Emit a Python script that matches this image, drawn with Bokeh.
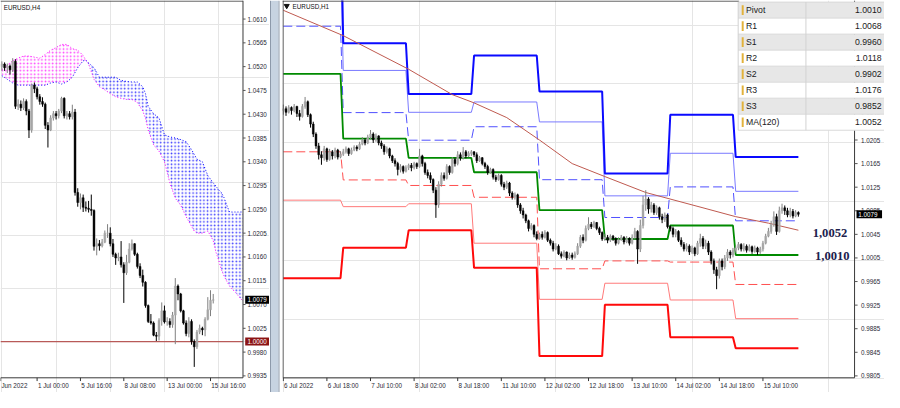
from bokeh.plotting import figure
from bokeh.layouts import row
from bokeh.models import Range1d
from bokeh.core.properties import value
from bokeh.embed import file_html
from bokeh.resources import INLINE

PIP = 1e-4

# ---------------- LEFT PANEL: EURUSD H4 (prices x 1e4) ----------------
h4_first_open = 10520
h4_close = [10525, 10518, 10521, 10514, 10530, 10445, 10449, 10442, 10454, 10436,
            10400, 10485, 10478, 10463, 10454, 10449, 10409, 10400, 10423, 10431,
            10427, 10436, 10460, 10427, 10431, 10425, 10434, 10282, 10263, 10272,
            10254, 10252, 10250, 10248, 10180, 10185, 10181, 10188, 10205, 10205,
            10185, 10165, 10158, 10160, 10145, 10130, 10150, 10175, 10185, 10165,
            10142, 10125, 10112, 10068, 10038, 10035, 10012, 10010, 10040, 10058,
            10037, 10038, 10032, 10050, 10105, 10090, 10058, 10035, 10015, 10038,
            10000, 9990, 10018, 10025, 10022, 10042, 10060, 10078, 10079]
h4_high = [10530, 10528, 10526, 10524, 10536, 10534, 10458, 10456, 10460, 10458,
           10440, 10488, 10490, 10482, 10468, 10462, 10452, 10415, 10428, 10436,
           10436, 10440, 10463, 10462, 10436, 10436, 10448, 10440, 10290, 10280,
           10278, 10265, 10266, 10278, 10250, 10195, 10192, 10194, 10210, 10222,
           10216, 10194, 10168, 10168, 10190, 10150, 10164, 10186, 10193, 10186,
           10168, 10148, 10136, 10114, 10070, 10052, 10038, 10018, 10044, 10074,
           10068, 10046, 10044, 10056, 10120, 10108, 10092, 10060, 10040, 10046,
           10042, 10004, 10022, 10032, 10028, 10046, 10084, 10097, 10090]
h4_low = [10512, 10512, 10508, 10505, 10510, 10440, 10438, 10436, 10438, 10428,
          10385, 10395, 10470, 10458, 10448, 10444, 10402, 10367, 10398, 10418,
          10420, 10422, 10432, 10422, 10420, 10420, 10420, 10276, 10255, 10250,
          10245, 10246, 10244, 10238, 10172, 10163, 10172, 10178, 10186, 10196,
          10180, 10160, 10145, 10152, 10140, 10073, 10126, 10148, 10172, 10162,
          10138, 10120, 10104, 10064, 10035, 10032, 10010, 10001, 10002, 10030,
          10034, 10030, 10026, 10026, 9995, 10078, 10055, 10032, 10010, 10008,
          9994, 9952, 9986, 10014, 10012, 10010, 10040, 10048, 10072]

# Ichimoku cloud (Senkou Span A / B) at H4 bar positions
cloud_bar = [0, 2, 4, 6, 8, 10, 12, 14, 16, 18, 20, 22, 24, 26, 28, 30, 31, 32,
             34, 36, 38, 40, 42, 44, 46, 48, 50, 52, 53, 54, 56, 58, 60, 62, 64,
             66, 68, 70, 71, 72, 74, 76, 78, 79, 80, 81, 82, 83, 84, 86, 88, 89]
span_a = [10514, 10523, 10531, 10536, 10540, 10540, 10538, 10536, 10543, 10551,
          10556, 10562, 10562, 10554, 10551, 10541, 10532, 10525, 10496, 10482,
          10476, 10469, 10463, 10460, 10458, 10458, 10452, 10436, 10422, 10400,
          10372, 10360, 10340, 10300, 10271, 10258, 10236, 10218, 10209, 10205,
          10205, 10209, 10191, 10169, 10154, 10136, 10124, 10114, 10105, 10094,
          10082, 10076]
span_b = [10503, 10496, 10489, 10485, 10485, 10485, 10485, 10485, 10485, 10489,
          10491, 10487, 10491, 10500, 10518, 10531, 10532, 10527, 10518, 10500,
          10500, 10500, 10500, 10494, 10492, 10491, 10491, 10482, 10469, 10445,
          10431, 10423, 10391, 10387, 10385, 10382, 10378, 10363, 10354, 10345,
          10340, 10314, 10300, 10294, 10287, 10282, 10272, 10258, 10245, 10245,
          10245, 10245]
cloud_cross = 16  # index where span A and B meet

left_ticks = [1.0610, 1.0565, 1.0520, 1.0475, 1.0430, 1.0385, 1.0340, 1.0295,
              1.0250, 1.0205, 1.0160, 1.0115, 1.0070, 1.0025, 0.9980, 0.9935]
left_xtick_bars = [-0.45, 13, 29, 45, 61, 77]
left_xtick_labels = ["Jun 2022", "1 Jul 00:00", "5 Jul 16:00", "8 Jul 08:00",
                     "13 Jul 00:00", "15 Jul 16:00"]
left_level = 1.0000
left_last = 1.0079

# ---------------- RIGHT PANEL: EURUSD H1 (prices x 1e4) ----------------
h1_first_open = 10255
h1_close = ([10258, 10252, 10260, 10255, 10262, 10250, 10245, 10262, 10270, 10248, 10232,
             10215, 10195, 10180, 10175, 10190, 10172, 10185, 10178, 10188, 10176, 10181] +
            [10185, 10190, 10182, 10188, 10193, 10190, 10198, 10205, 10200, 10210, 10215, 10205,
             10212, 10200, 10195, 10185, 10190, 10178, 10170, 10165, 10155, 10160, 10152, 10158] +
            [10162, 10158, 10165, 10160, 10178, 10165, 10150, 10145, 10138, 10120, 10095, 10130,
             10145, 10140, 10160, 10150, 10172, 10165, 10180, 10175, 10185, 10178, 10182, 10185] +
            [10180, 10170, 10175, 10165, 10160, 10150, 10155, 10142, 10138, 10145, 10130, 10125,
             10132, 10115, 10108, 10112, 10095, 10085, 10078, 10068, 10055, 10060, 10045, 10038] +
            [10045, 10040, 10048, 10035, 10030, 10020, 10025, 10012, 10008, 10015, 10005, 10010,
             10006, 10012, 10025, 10040, 10035, 10055, 10062, 10058, 10065, 10055, 10048, 10037] +
            [10040, 10035, 10042, 10038, 10030, 10036, 10040, 10032, 10038, 10030, 10040, 10050,
             10020, 10060, 10095, 10105, 10088, 10095, 10082, 10090, 10075, 10070, 10078, 10058] +
            [10055, 10045, 10050, 10035, 10028, 10020, 10025, 10015, 10022, 10012, 10030, 10038,
             10025, 10030, 10015, 10000, 9985, 9975, 10000, 9990, 10005, 10015, 10010, 10018] +
            [10022, 10028, 10020, 10025, 10018, 10024, 10016, 10022, 10015, 10020, 10030, 10042,
             10050, 10062, 10075, 10050, 10085, 10090, 10085, 10078, 10084, 10076, 10082, 10079])
h1_high = ([10265, 10262, 10264, 10262, 10266, 10263, 10256, 10266, 10278, 10272, 10250,
            10236, 10218, 10200, 10186, 10195, 10192, 10190, 10188, 10192, 10190, 10186] +
           [10190, 10194, 10192, 10192, 10196, 10196, 10202, 10210, 10208, 10214, 10222, 10218,
            10216, 10213, 10204, 10198, 10194, 10192, 10180, 10174, 10168, 10164, 10162, 10162] +
           [10165, 10166, 10168, 10167, 10190, 10180, 10168, 10155, 10150, 10140, 10125, 10135,
            10150, 10150, 10164, 10162, 10176, 10175, 10186, 10184, 10193, 10188, 10186, 10188] +
           [10186, 10184, 10178, 10176, 10168, 10163, 10158, 10157, 10146, 10148, 10147, 10134,
            10136, 10134, 10118, 10116, 10114, 10098, 10090, 10080, 10070, 10064, 10062, 10050] +
           [10048, 10050, 10052, 10050, 10038, 10034, 10030, 10028, 10016, 10018, 10016, 10014,
            10014, 10016, 10030, 10044, 10045, 10060, 10074, 10066, 10068, 10066, 10058, 10050] +
           [10046, 10044, 10045, 10044, 10040, 10040, 10044, 10042, 10042, 10040, 10045, 10056,
            10052, 10070, 10110, 10120, 10108, 10100, 10098, 10094, 10092, 10080, 10082, 10080] +
           [10060, 10058, 10054, 10052, 10040, 10032, 10030, 10028, 10026, 10024, 10034, 10046,
            10042, 10036, 10034, 10018, 10004, 9990, 10004, 10004, 10010, 10020, 10018, 10022] +
           [10026, 10032, 10030, 10030, 10028, 10028, 10026, 10026, 10024, 10024, 10034, 10046,
            10056, 10068, 10084, 10080, 10092, 10097, 10094, 10090, 10090, 10088, 10086, 10084])
h1_low = ([10248, 10246, 10250, 10248, 10252, 10244, 10238, 10243, 10258, 10244, 10226,
           10210, 10190, 10172, 10163, 10170, 10168, 10170, 10172, 10174, 10172, 10174] +
          [10178, 10182, 10178, 10180, 10186, 10186, 10188, 10196, 10196, 10198, 10206, 10200,
           10202, 10196, 10190, 10180, 10182, 10174, 10166, 10160, 10145, 10150, 10148, 10150] +
          [10154, 10152, 10155, 10156, 10158, 10160, 10146, 10140, 10132, 10115, 10073, 10090,
           10126, 10136, 10138, 10146, 10148, 10160, 10162, 10170, 10172, 10174, 10176, 10178] +
          [10176, 10166, 10168, 10162, 10156, 10146, 10148, 10138, 10134, 10136, 10126, 10120,
           10122, 10110, 10104, 10104, 10090, 10080, 10072, 10064, 10050, 10052, 10040, 10035] +
          [10036, 10036, 10038, 10032, 10026, 10016, 10018, 10010, 10004, 10006, 10001, 10003,
           10002, 10004, 10010, 10022, 10030, 10033, 10052, 10054, 10056, 10052, 10044, 10034] +
          [10034, 10030, 10032, 10034, 10026, 10028, 10034, 10028, 10030, 10026, 10028, 10036,
           9995, 10015, 10055, 10085, 10080, 10082, 10078, 10078, 10070, 10064, 10066, 10055] +
          [10050, 10040, 10040, 10032, 10024, 10016, 10016, 10010, 10012, 10008, 10010, 10024,
           10020, 10020, 10010, 9994, 9978, 9952, 9970, 9984, 9986, 10000, 10004, 10006] +
          [10014, 10018, 10016, 10016, 10014, 10016, 10012, 10014, 10010, 10012, 10016, 10028,
           10040, 10046, 10058, 10044, 10048, 10080, 10078, 10074, 10074, 10072, 10074, 10075])

# daily pivot levels (one value per day: 6,7,8,11,12,13,14,15 Jul)
day_start = [0, 22, 46, 70, 94, 118, 142, 166]
last_bar = 189
pivot = [1.0317, 1.02074, 1.01748, 1.01503, 1.00861, 1.00371, 1.0060, 1.0010]
r1 = [1.0398, 1.02515, 1.02047, 1.02275, 1.01377, 1.00736, 1.01255, 1.0068]
r2 = [1.0530, 1.0323, 1.02520, 1.02695, 1.02357, 1.01103, 1.01825, 1.0118]
r3 = [1.0611, 1.03691, 1.02830, 1.03484, 1.02874, 1.01483, 1.02478, 1.0176]
s1 = [1.0185, 1.01373, 1.01279, 1.01079, 0.99866, 1.0000, 0.9998, 0.9960]
s2 = [1.0103, 1.0092, 1.00969, 1.0030, 0.99348, 0.99621, 0.99337, 0.9902]
s3 = [0.99707, 1.00225, 1.00519, 0.99882, 0.98385, 0.99255, 0.98706, 0.9852]

ma_bar = [0, 22, 46, 62, 70, 82, 94, 106, 118, 133, 154, 166, 178, 189]
ma_val = [1.0425, 1.0382, 1.0325, 1.0282, 1.0268, 1.0243, 1.0205, 1.0165, 1.0143,
          1.0116, 1.0090, 1.0075, 1.0064, 1.0052]

right_ticks = [0.9805, 0.9845, 0.9885, 0.9925, 0.9965, 1.0005, 1.0045, 1.0085,
               1.0125, 1.0165, 1.0205, 1.0245, 1.0285, 1.0325, 1.0365, 1.0405]
right_xtick_bars = [0, 16, 32, 48, 64, 80, 96, 112, 128, 144, 160, 176]
right_xtick_labels = ["6 Jul 2022", "6 Jul 18:00", "7 Jul 10:00", "8 Jul 02:00",
                      "8 Jul 18:00", "11 Jul 10:00", "12 Jul 02:00", "12 Jul 18:00",
                      "13 Jul 10:00", "14 Jul 02:00", "14 Jul 18:00", "15 Jul 10:00"]
right_last = 1.0079

table_names = ["Pivot", "R1", "S1", "R2", "S2", "R3", "S3", "MA(120)"]
table_values = ["1.0010", "1.0068", "0.9960", "1.0118", "0.9902", "1.0176", "0.9852", "1.0052"]
note_labels = ["1,0052", "1,0010"]

# ---------------- layout constants ----------------
H = 392
LW, SW, RW = 269, 13, 602
SANS = value("Liberation Sans")
AXC = "#2a2a35"
FS_AX = "6.3px"
BOTTOM = 392.7   # frame bottom line (reference pixel units)


def base_fig(width, xr, yr, pxr, pyr):
    p = figure(width=width, height=H, x_range=xr, y_range=yr, output_backend="svg",
               toolbar_location=None, x_axis_location=None, y_axis_location=None,
               min_border=0, outline_line_color=None,
               background_fill_color="white", border_fill_color="white")
    p.extra_x_ranges = {"px": pxr}
    p.extra_y_ranges = {"py": pyr}
    return p


def candles(p, first_open, hi, lo, cl, w):
    op = [first_open] + cl[:-1]
    o = [v * PIP for v in op]
    c = [v * PIP for v in cl]
    h = [v * PIP for v in hi]
    l = [v * PIP for v in lo]
    x = list(range(len(c)))
    up = [cc >= oo for oo, cc in zip(o, c)]
    wick = ["#808080" if u else "#000000" for u in up]
    body = ["#a6a6a6" if u else "#000000" for u in up]
    p.segment(x0=x, y0=l, x1=x, y1=h, line_color=wick, line_width=1)
    p.vbar(x=x, width=w, bottom=[min(a, b) for a, b in zip(o, c)],
           top=[max(a, b) for a, b in zip(o, c)], fill_color=body, line_color=body,
           line_width=0.5)


def text(p, x, y, s, size=FS_AX, color=AXC, align="left", baseline="middle",
         font=SANS, style="normal", xr="px", yr="py"):
    p.text(x=x, y=y, text=s, text_font=font, text_font_size=size, text_color=color,
           text_align=align, text_baseline=baseline, text_font_style=style,
           x_range_name=xr, y_range_name=yr)


def time_axis(p, bars, labels, gap):
    nb = len(bars)
    p.segment(x0=bars, y0=[BOTTOM] * nb, x1=bars, y1=[BOTTOM + 3.4] * nb,
              line_color="#333333", line_width=1, y_range_name="py")
    text(p, [b + gap for b in bars], [400.4] * nb, labels, xr="default")


# ================= LEFT FIGURE =================
left = base_fig(LW, Range1d(-0.507, 98.77), Range1d(0.990358, 1.06451),
                Range1d(0, 274), Range1d(408, 0))

sa = [v * PIP for v in span_a]
sb = [v * PIP for v in span_b]
k = cloud_cross
left.varea(x=cloud_bar[:k + 1], y1=sb[:k + 1], y2=sa[:k + 1], fill_color=None,
           hatch_pattern="dot", hatch_color="#ff40ff", hatch_scale=3.6, hatch_weight=1.1)
left.varea(x=cloud_bar[k:], y1=sa[k:], y2=sb[k:], fill_color=None,
           hatch_pattern="dot", hatch_color="#3a3aff", hatch_scale=3.6, hatch_weight=1.1)
left.line(cloud_bar, sa, line_color="#ff00ff", line_dash="1 2", line_width=1)
left.line(cloud_bar, sb, line_color="#0000ff", line_dash="1 2", line_width=1)

left.segment(x0=[0], y0=[left_level], x1=[247], y1=[left_level], line_color="#b85a58",
             line_width=1.3, x_range_name="px")
candles(left, h4_first_open, h4_high, h4_low, h4_close, 0.68)

# frame + manual price axis
left.segment(x0=[0, 247, 0], y0=[0.6, 0, BOTTOM], x1=[247, 247, 247], y1=[0.6, BOTTOM, BOTTOM],
             line_color="#3a3a3a", line_width=1, x_range_name="px", y_range_name="py")
left.segment(x0=[247] * len(left_ticks), y0=left_ticks, x1=[249.6] * len(left_ticks),
             y1=left_ticks, line_color="#555555", line_width=1, x_range_name="px")
text(left, [251.5] * len(left_ticks), left_ticks, [f"{t:.4f}" for t in left_ticks], yr="default")
left.rect(x=[261.5, 261.5], y=[left_last, left_level], width=24.5, height=8,
          height_units="screen", fill_color=["#000000", "#8c1414"], line_color=None,
          x_range_name="px")
text(left, [251.5, 251.5], [left_last, left_level], [f"{left_last:.4f}", f"{left_level:.4f}"],
     color="white", yr="default")
time_axis(left, left_xtick_bars, left_xtick_labels, 0.3)
text(left, [3.3], [6.8], ["EURUSD,H4"], color="#111111")

# ================= SEPARATOR =================
sep = figure(width=SW, height=H, x_range=Range1d(0, 13), y_range=Range1d(0, 1),
             output_backend="svg", toolbar_location=None, min_border=0,
             outline_line_color=None, x_axis_location=None, y_axis_location=None,
             background_fill_color="white", border_fill_color="white")
sep.grid.visible = False
sep.quad(left=[0.5, 1.5, 9.0], right=[1.5, 9.0, 10.0], bottom=0, top=1,
         fill_color=["#8d99aa", "#c7d3e1", "#8d99aa"], line_color=None)

# ================= RIGHT FIGURE =================
right = base_fig(RW, Range1d(-0.288, 220.6), Range1d(0.977681, 1.04416),
                 Range1d(287, 900), Range1d(408, 0))


def level_path(levels):
    xs, ys = [], []
    for i, lv in enumerate(levels):
        s = day_start[i]
        e = day_start[i + 1] - 1 if i + 1 < len(day_start) else last_bar
        xs += [s, e]
        ys += [lv, lv]
    return xs, ys


for lv, col, wd, dash in [(r2, "#7a7aff", 1, "solid"), (s2, "#ff7a7a", 1, "solid"),
                          (r1, "#5050ff", 1, "9 4"), (s1, "#ff5050", 1, "9 4"),
                          (r3, "#0a0aff", 2, "solid"), (s3, "#ff0a0a", 2, "solid"),
                          (pivot, "#008a00", 1.8, "solid")]:
    xs, ys = level_path(lv)
    right.line(xs, ys, line_color=col, line_width=wd, line_dash=dash)

right.line(ma_bar, ma_val, line_color="#bf5a50", line_width=1)
candles(right, h1_first_open, h1_high, h1_low, h1_close, 0.66)

# frame + manual price axis
right.segment(x0=[287.5, 287, 287.5, 869.5], y0=[0, 0.6, BOTTOM, 0],
              x1=[287.5, 752, 869.5, 869.5], y1=[BOTTOM, 0.6, BOTTOM, BOTTOM],
              line_color="#3a3a3a", line_width=1, x_range_name="px", y_range_name="py")
right.segment(x0=[869.5] * len(right_ticks), y0=right_ticks, x1=[872.6] * len(right_ticks),
              y1=right_ticks, line_color="#555555", line_width=1, x_range_name="px")
text(right, [876] * len(right_ticks), right_ticks, [f"{t:.4f}" for t in right_ticks], yr="default")
right.rect(x=[884.5], y=[right_last], width=[26], height=8, height_units="screen",
           fill_color="#000000", line_color=None, x_range_name="px")
text(right, [873.2], [right_last], [f"{right_last:.4f}"], color="white", yr="default")
time_axis(right, right_xtick_bars, right_xtick_labels, 0.3)

# annotation numbers
text(right, [844.5, 846.8], [241.7, 265.8], note_labels, size="12.6px", color="#20204c",
     align="center", font=value("Liberation Serif"), style="bold")

# titles
right.scatter(x=[291.3], y=[5.6], marker="inverted_triangle", size=5, fill_color="#111111",
              line_color="#111111", x_range_name="px", y_range_name="py")
text(right, [297.3], [6.2], ["EURUSD,H1"], color="#111111")

# level table
n = len(table_names)
rt, rh = 1.67, 16.67
ys = [rt + rh * (i + 0.5) for i in range(n)]
right.rect(x=[826] * n, y=ys, width=150, height=rh,
           fill_color=["#e7e7e7" if i % 2 == 0 else "#ffffff" for i in range(n)],
           line_color=None, x_range_name="px", y_range_name="py")
right.segment(x0=[751] * (n + 1), y0=[rt + rh * i for i in range(n + 1)],
              x1=[900] * (n + 1), y1=[rt + rh * i for i in range(n + 1)],
              line_color="#d9d9d9", line_width=1, x_range_name="px", y_range_name="py")
right.segment(x0=[820, 751], y0=[rt, rt], x1=[820, 751], y1=[rt + rh * n, rt + rh * n],
              line_color="#d2d2d2", line_width=1, x_range_name="px", y_range_name="py")
right.rect(x=[755.6] * n, y=ys, width=2.0, height=10, fill_color="#e2b23a",
           line_color=None, x_range_name="px", y_range_name="py")
text(right, [759] * n, ys, table_names, size="8.7px", color="#1a1a1a")
text(right, [897] * n, ys, table_values, size="8.7px", color="#1a1a1a", align="right")

layout = row(left, sep, right)
open("out.html", "w").write(file_html(layout, INLINE))
